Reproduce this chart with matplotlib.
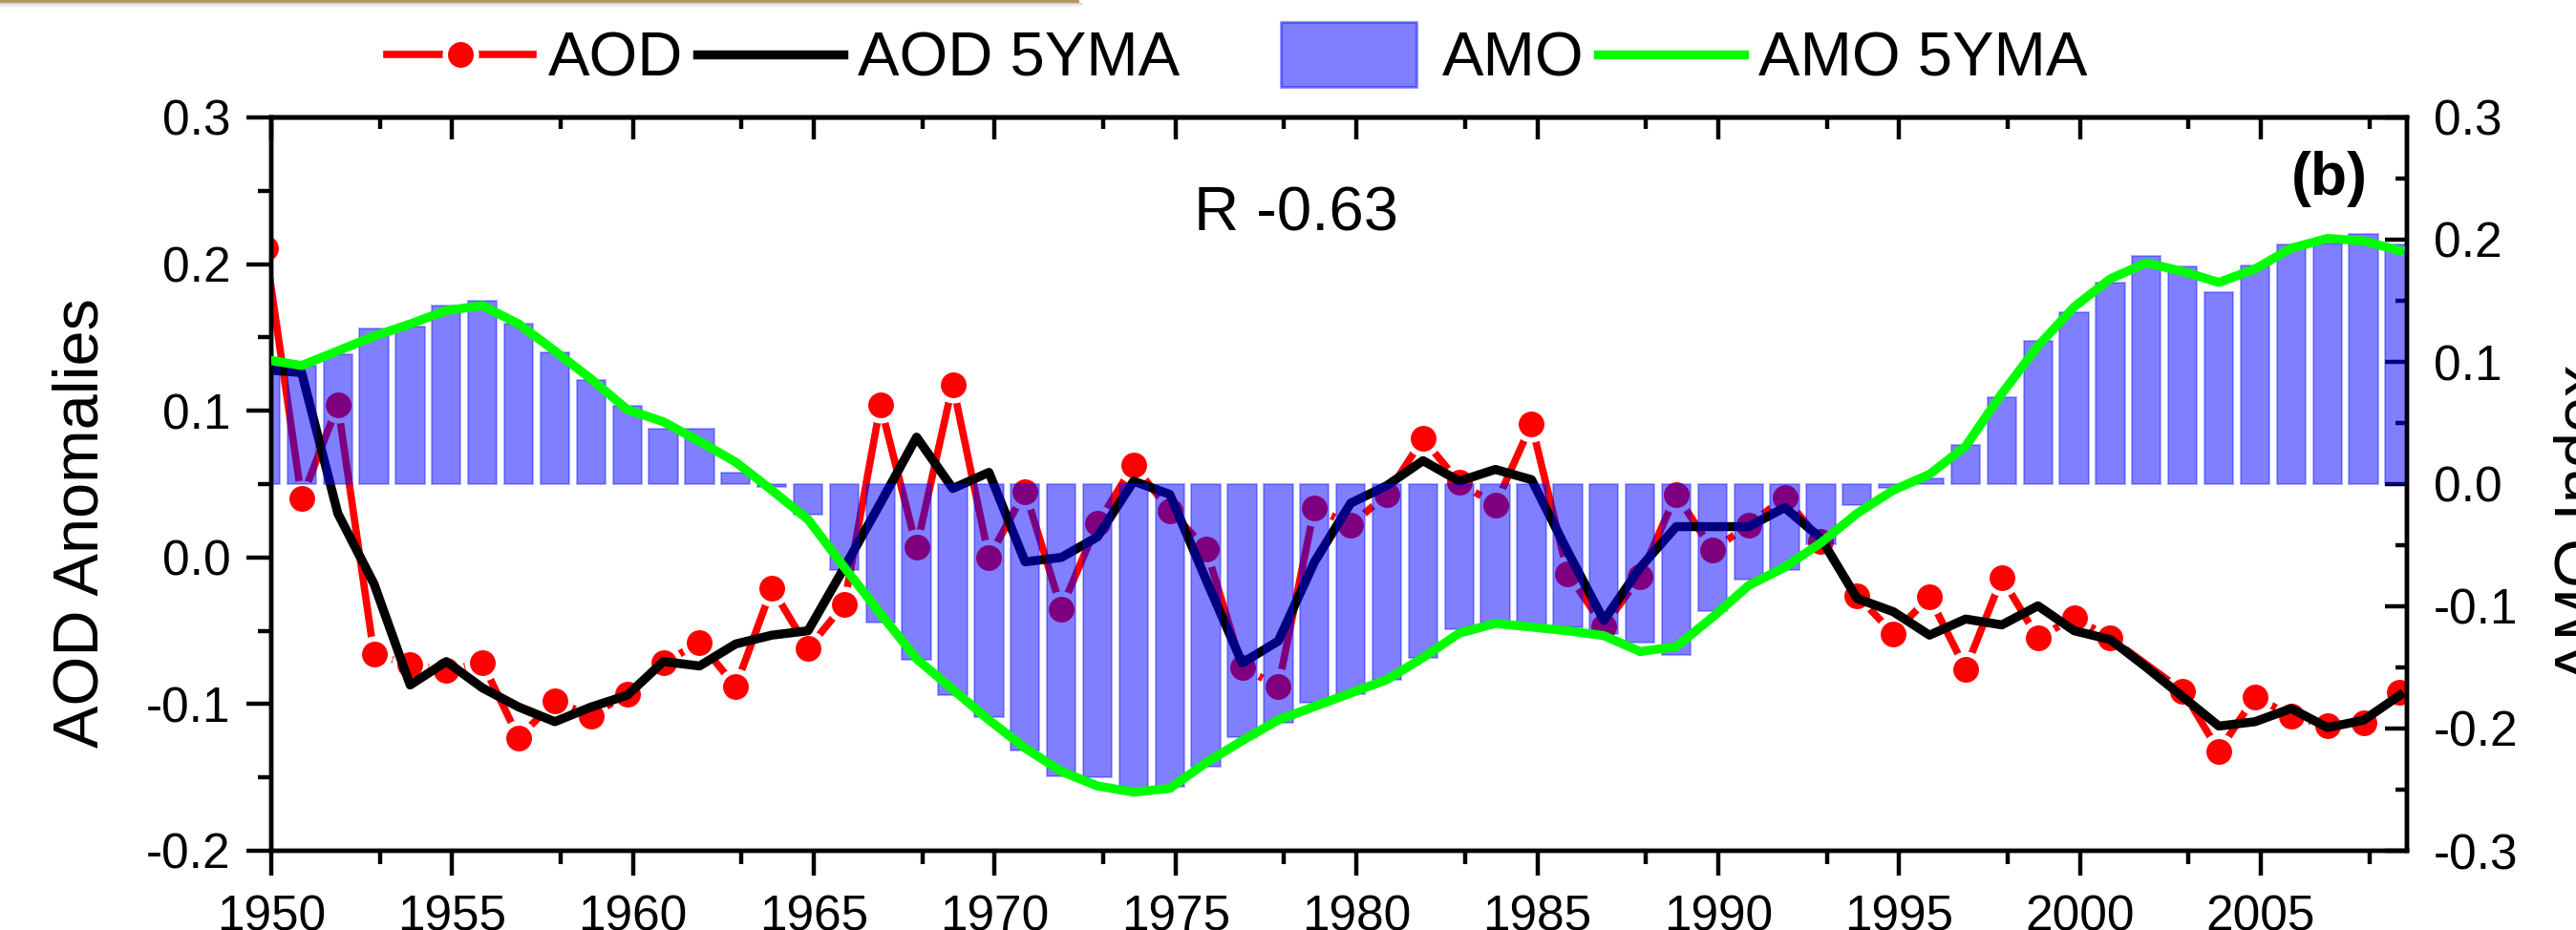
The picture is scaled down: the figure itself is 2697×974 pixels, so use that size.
import matplotlib
matplotlib.use('Agg')
import matplotlib.pyplot as plt
from matplotlib.lines import Line2D
from matplotlib.patches import Rectangle
from matplotlib.legend_handler import HandlerPatch
from matplotlib.ticker import MultipleLocator, FixedLocator, FuncFormatter
import numpy as np

plt.rcParams['font.family'] = ['Liberation Sans', 'DejaVu Sans']
plt.rcParams['axes.unicode_minus'] = False

# ---------------- data ----------------
years = list(range(1950, 2010))

aod = [0.211, 0.040, 0.104, -0.066, -0.073, -0.077, -0.072, -0.123, -0.098, -0.108,
       -0.093, -0.072, -0.058, -0.088, -0.021, -0.062, -0.032, 0.104, 0.007, 0.118,
       0.000, 0.045, -0.035, 0.023, 0.063, 0.032, 0.006, -0.075, -0.088, 0.034,
       0.022, 0.043, 0.081, 0.051, 0.036, 0.091, -0.011, -0.047, -0.013, 0.043,
       0.005, 0.022, 0.041, 0.011, -0.026, -0.052, -0.027, -0.076, -0.014, -0.055,
       -0.041, -0.055, -0.073, -0.091, -0.132, -0.095, -0.108, -0.115, -0.113, -0.092]

aod_5yma = [0.128, 0.126, 0.030, -0.018, -0.087, -0.071, -0.089, -0.102, -0.112, -0.102,
            -0.094, -0.071, -0.074, -0.059, -0.053, -0.050, -0.007, 0.037, 0.082, 0.047,
            0.058, -0.003, 0.000, 0.014, 0.052, 0.043, -0.015, -0.072, -0.057, -0.003,
            0.037, 0.049, 0.066, 0.052, 0.060, 0.053, 0.004, -0.043, -0.007, 0.021,
            0.021, 0.021, 0.034, 0.013, -0.028, -0.037, -0.053, -0.042, -0.046, -0.033,
            -0.050, -0.056, -0.075, -0.095, -0.115, -0.112, -0.103, -0.116, -0.111, -0.094]

amo = [0.098, 0.097, 0.106, 0.127, 0.129, 0.146, 0.150, 0.131, 0.108, 0.085,
       0.064, 0.045, 0.045, 0.009, -0.002, -0.025, -0.070, -0.113, -0.144, -0.173,
       -0.191, -0.218, -0.239, -0.240, -0.253, -0.248, -0.231, -0.207, -0.195, -0.179,
       -0.172, -0.160, -0.142, -0.119, -0.113, -0.118, -0.117, -0.123, -0.130, -0.140,
       -0.104, -0.078, -0.070, -0.049, -0.017, -0.003, 0.005, 0.032, 0.071, 0.117,
       0.141, 0.165, 0.187, 0.178, 0.157, 0.179, 0.196, 0.197, 0.205, 0.196]

amo_5yma = [0.102, 0.097, 0.109, 0.121, 0.131, 0.142, 0.146, 0.131, 0.109, 0.086,
            0.061, 0.051, 0.035, 0.018, -0.005, -0.029, -0.068, -0.106, -0.143, -0.168,
            -0.193, -0.216, -0.235, -0.247, -0.252, -0.249, -0.228, -0.210, -0.193, -0.182,
            -0.171, -0.160, -0.142, -0.122, -0.114, -0.117, -0.120, -0.124, -0.137, -0.133,
            -0.109, -0.083, -0.068, -0.048, -0.024, -0.005, 0.008, 0.031, 0.074, 0.113,
            0.145, 0.168, 0.181, 0.174, 0.165, 0.176, 0.193, 0.201, 0.199, 0.191]

no_marker_years = [2002]

x_ticks = [1950, 1955, 1960, 1965, 1970, 1975, 1980, 1985, 1990, 1995, 2000, 2005]
x_minor_ticks = [1953, 1958, 1963, 1968, 1973, 1978, 1983, 1988, 1993, 1998, 2003, 2008]

# ---------------- figure ----------------
W, H = 2697, 974
fig = plt.figure(figsize=(W / 100, H / 100), dpi=100)
ax = fig.add_axes([284 / W, 1 - 891 / H, (2520 - 284) / W, (891 - 123) / H])
ax2 = ax.twinx()

X_SHIFT = -0.16
x = np.array(years) + X_SHIFT

RED = (1, 0, 0)
GREEN = (0, 1, 0)
BAR_FACE = (0, 0, 1, 0.5)
BAR_EDGE = (0, 0, 1, 0.3)

mk_idx = [i for i, y in enumerate(years) if y not in no_marker_years]
ax.plot(x, aod, color=RED, lw=5.5, marker='o', ms=23.4, mfc=RED, mec='white',
        mew=4, markevery=mk_idx, zorder=2)
ax.plot(x, aod_5yma, color='black', lw=6.8, zorder=3)
ax2.bar(x, amo, width=0.8, color=BAR_FACE, edgecolor=BAR_EDGE, lw=1.5, zorder=2)
ax2.plot(x, amo_5yma, color=GREEN, lw=6.8, zorder=3)

ax.set_xlim(1950, 2009.04)
ax.set_ylim(-0.2, 0.3)
ax2.set_ylim(-0.3, 0.3)

fmt1 = FuncFormatter(lambda v, p: f'{round(v, 1) + 0:.1f}')
ax.xaxis.set_major_locator(FixedLocator(x_ticks))
ax.xaxis.set_minor_locator(FixedLocator(x_minor_ticks))
ax.xaxis.set_major_formatter(FuncFormatter(lambda v, p: f'{int(round(v))}'))
ax.yaxis.set_major_locator(MultipleLocator(0.1))
ax.yaxis.set_minor_locator(MultipleLocator(0.05))
ax.yaxis.set_major_formatter(fmt1)
ax2.yaxis.set_major_locator(MultipleLocator(0.1))
ax2.yaxis.set_minor_locator(MultipleLocator(0.05))
ax2.yaxis.set_major_formatter(fmt1)

LW = 3.2
ax.tick_params(axis='x', which='both', direction='out', bottom=True, top=False,
               labelsize=37, width=LW, pad=14)
ax.tick_params(axis='x', which='major', length=18.7)
ax.tick_params(axis='x', which='minor', length=10)
ax.tick_params(axis='y', which='both', direction='out', left=True, right=False,
               labelsize=37, width=LW, pad=12)
ax.tick_params(axis='y', which='major', length=18.7)
ax.tick_params(axis='y', which='minor', length=10)

ax2.tick_params(axis='y', which='both', direction='in', right=True, left=False,
                labelsize=37, width=LW, pad=20)
ax2.tick_params(axis='y', which='major', length=16.6)
ax2.tick_params(axis='y', which='minor', length=8.6)

sec = ax.secondary_xaxis('top')
sec.xaxis.set_major_locator(FixedLocator(x_ticks))
sec.xaxis.set_minor_locator(FixedLocator(x_minor_ticks))
sec.tick_params(axis='x', which='both', direction='in', width=LW,
                labeltop=False, labelbottom=False)
sec.tick_params(axis='x', which='major', length=16.6)
sec.tick_params(axis='x', which='minor', length=8.6)
for s in sec.spines.values():
    s.set_linewidth(LW)

for a in (ax, ax2):
    for s in a.spines.values():
        s.set_linewidth(LW)

# axis labels
fig.text(103 / W, 1 - 548 / H, 'AOD Anomalies', rotation=90, rotation_mode='anchor',
         ha='center', va='baseline', fontsize=48)
fig.text(2721 / W, 1 - 548 / H, 'AMO Index', rotation=90, rotation_mode='anchor',
         ha='center', va='baseline', fontsize=48)

# annotations
fig.text(1250 / W, 1 - 241 / H, 'R -0.63', ha='left', va='baseline', fontsize=47)
fig.text(2479 / W, 1 - 204 / H, '(b)', ha='right', va='baseline', fontsize=45,
         fontweight='bold')

# legends
h_aod = Line2D([], [], color=RED, lw=5.5, marker='o', ms=23.4, mfc=RED, mec='white', mew=4)
h_aod5 = Line2D([], [], color='black', lw=6.8)
h_amo = Rectangle((0, 0), 1, 1, facecolor=BAR_FACE, edgecolor=(0, 0, 1, 0.45), lw=2)
h_amo5 = Line2D([], [], color=GREEN, lw=6.8)


def bar_patch(legend, orig_handle, xdescent, ydescent, width, height, fontsize):
    w = width * 142 / 153
    h = fontsize * 1.046
    return Rectangle((-xdescent, -ydescent + height / 2 - h / 2), w, h)


leg_kw = dict(loc='center left', frameon=False, fontsize=47, handlelength=2.35,
              handletextpad=0.23, columnspacing=0.23, borderpad=0, borderaxespad=0,
              ncol=2)
leg1 = fig.legend([h_aod, h_aod5], ['AOD', 'AOD 5YMA'],
                  bbox_to_anchor=(405 / W, 1 - 63 / H), **leg_kw)
leg2 = fig.legend([h_amo, h_amo5], ['AMO', 'AMO 5YMA'],
                  bbox_to_anchor=(1341 / W, 1 - 63 / H),
                  handler_map={Rectangle: HandlerPatch(patch_func=bar_patch)}, **leg_kw)

# decorative rule at the top-left (part of the source page)
fig.patches.append(Rectangle((0, 1 - 3 / H), 1130 / W, 3 / H, transform=fig.transFigure,
                             facecolor='#b39a5e', edgecolor='none', zorder=10))
for k, al in enumerate([0.35, 0.25, 0.16, 0.09, 0.04]):
    fig.patches.append(Rectangle((0, 1 - (4 + k) / H), 1133 / W, 1 / H,
                                 transform=fig.transFigure, facecolor='#808080',
                                 alpha=al, edgecolor='none', zorder=9))

fig.savefig('out.png', dpi=100)
